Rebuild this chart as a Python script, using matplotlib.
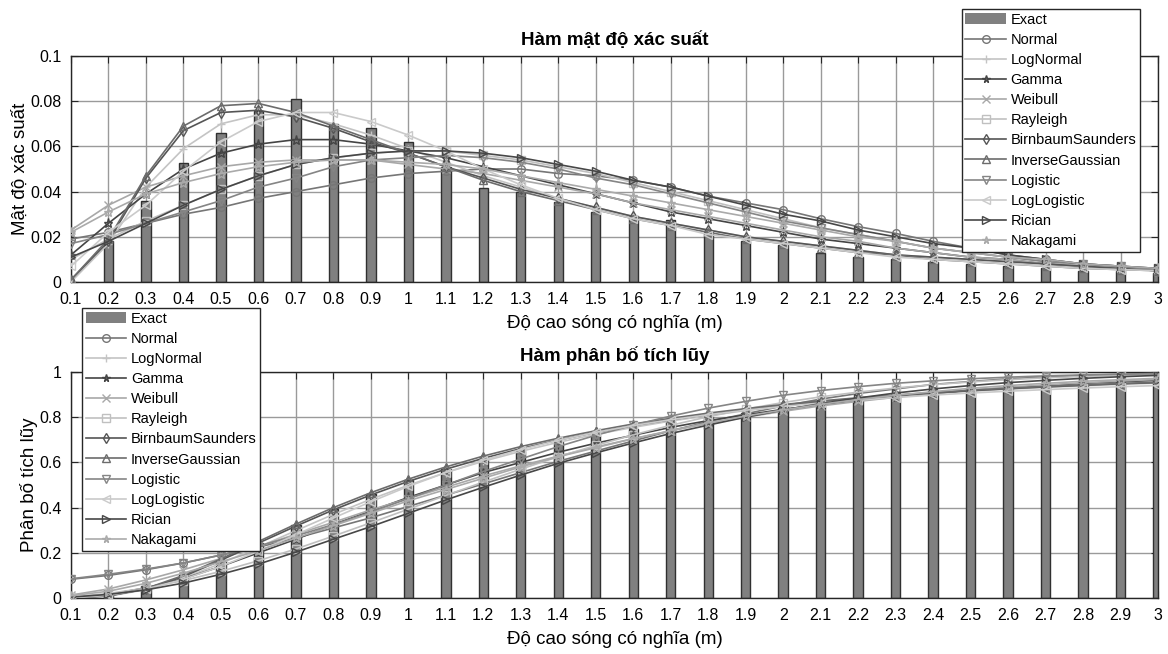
import matplotlib
matplotlib.use("Agg")
import matplotlib.pyplot as plt
from matplotlib.patches import Patch
from matplotlib.lines import Line2D
import numpy as np

# wave height bins (m)
x = [0.1, 0.2, 0.3, 0.4, 0.5, 0.6, 0.7, 0.8, 0.9, 1.0,
     1.1, 1.2, 1.3, 1.4, 1.5, 1.6, 1.7, 1.8, 1.9, 2.0,
     2.1, 2.2, 2.3, 2.4, 2.5, 2.6, 2.7, 2.8, 2.9, 3.0]
x_labels = ['0.1', '0.2', '0.3', '0.4', '0.5', '0.6', '0.7', '0.8', '0.9', '1',
            '1.1', '1.2', '1.3', '1.4', '1.5', '1.6', '1.7', '1.8', '1.9', '2',
            '2.1', '2.2', '2.3', '2.4', '2.5', '2.6', '2.7', '2.8', '2.9', '3']

names = ['Normal', 'LogNormal', 'Gamma', 'Weibull', 'Rayleigh', 'BirnbaumSaunders',
         'InverseGaussian', 'Logistic', 'LogLogistic', 'Rician', 'Nakagami']

# ---- probability density (top)
exact_pdf = [0.000, 0.018, 0.036, 0.0525, 0.066, 0.0755, 0.081, 0.070, 0.068, 0.062,
             0.051, 0.0415, 0.040, 0.0355, 0.031, 0.029, 0.0274, 0.022, 0.018, 0.0164,
             0.0128, 0.011, 0.010, 0.009, 0.008, 0.007, 0.006, 0.005, 0.005, 0.004]

pdf_normal = [0.019, 0.022, 0.026, 0.030, 0.033, 0.037, 0.040, 0.043, 0.046, 0.048,
              0.049, 0.050, 0.050, 0.048, 0.047, 0.045, 0.042, 0.038, 0.035, 0.032,
              0.028, 0.0245, 0.0215, 0.018, 0.015, 0.012, 0.010, 0.008, 0.007, 0.005]
pdf_lognormal = [0.000, 0.017, 0.042, 0.059, 0.070, 0.074, 0.074, 0.070, 0.065, 0.059,
                 0.053, 0.047, 0.042, 0.037, 0.033, 0.029, 0.026, 0.023, 0.020, 0.018,
                 0.016, 0.014, 0.012, 0.011, 0.010, 0.009, 0.008, 0.007, 0.006, 0.0055]
pdf_gamma = [0.012, 0.026, 0.039, 0.050, 0.057, 0.061, 0.063, 0.063, 0.061, 0.058,
             0.055, 0.051, 0.047, 0.043, 0.039, 0.035, 0.031, 0.028, 0.025, 0.022,
             0.019, 0.017, 0.015, 0.013, 0.011, 0.010, 0.008, 0.007, 0.006, 0.005]
pdf_weibull = [0.023, 0.034, 0.042, 0.047, 0.051, 0.053, 0.054, 0.054, 0.054, 0.052,
               0.050, 0.048, 0.045, 0.042, 0.039, 0.035, 0.032, 0.029, 0.026, 0.023,
               0.020, 0.018, 0.015, 0.013, 0.011, 0.010, 0.008, 0.007, 0.006, 0.005]
pdf_rayleigh = [0.010, 0.019, 0.027, 0.034, 0.041, 0.047, 0.052, 0.055, 0.057, 0.058,
                0.058, 0.056, 0.054, 0.051, 0.048, 0.044, 0.040, 0.036, 0.032, 0.028,
                0.024, 0.021, 0.018, 0.015, 0.013, 0.011, 0.009, 0.007, 0.006, 0.005]
pdf_bs = [0.001, 0.018, 0.046, 0.067, 0.075, 0.076, 0.073, 0.068, 0.062, 0.057,
          0.051, 0.046, 0.041, 0.037, 0.033, 0.029, 0.026, 0.023, 0.020, 0.018,
          0.016, 0.014, 0.012, 0.011, 0.010, 0.009, 0.008, 0.007, 0.006, 0.005]
pdf_ig = [0.001, 0.019, 0.047, 0.069, 0.078, 0.079, 0.075, 0.069, 0.063, 0.057,
          0.051, 0.045, 0.040, 0.036, 0.032, 0.028, 0.025, 0.022, 0.019, 0.017,
          0.015, 0.013, 0.012, 0.010, 0.009, 0.008, 0.007, 0.006, 0.0055, 0.005]
pdf_logistic = [0.017, 0.021, 0.026, 0.031, 0.036, 0.042, 0.046, 0.051, 0.054, 0.055,
                0.056, 0.055, 0.053, 0.050, 0.046, 0.043, 0.039, 0.035, 0.031, 0.027,
                0.024, 0.021, 0.018, 0.015, 0.013, 0.011, 0.009, 0.008, 0.007, 0.006]
pdf_loglogistic = [0.007, 0.022, 0.034, 0.049, 0.062, 0.071, 0.075, 0.075, 0.071, 0.065,
                   0.058, 0.050, 0.043, 0.037, 0.032, 0.028, 0.025, 0.021, 0.019, 0.017,
                   0.015, 0.013, 0.011, 0.010, 0.009, 0.008, 0.007, 0.006, 0.0055, 0.005]
pdf_rician = [0.011, 0.018, 0.026, 0.034, 0.041, 0.047, 0.052, 0.055, 0.057, 0.058,
              0.058, 0.057, 0.055, 0.052, 0.049, 0.045, 0.042, 0.038, 0.034, 0.030,
              0.027, 0.023, 0.020, 0.017, 0.015, 0.012, 0.010, 0.008, 0.007, 0.006]
pdf_nakagami = [0.022, 0.031, 0.039, 0.044, 0.048, 0.051, 0.053, 0.054, 0.054, 0.053,
                0.052, 0.050, 0.047, 0.044, 0.041, 0.038, 0.035, 0.032, 0.029, 0.026,
                0.023, 0.020, 0.018, 0.015, 0.013, 0.011, 0.010, 0.008, 0.007, 0.006]

# ---- cumulative distribution (bottom)
exact_cdf = [0.000, 0.020, 0.055, 0.105, 0.170, 0.245, 0.325, 0.395, 0.460, 0.520,
             0.570, 0.610, 0.650, 0.690, 0.720, 0.750, 0.780, 0.800, 0.820, 0.850,
             0.870, 0.885, 0.900, 0.915, 0.930, 0.940, 0.950, 0.957, 0.963, 0.968]

cdf_normal = [0.083, 0.100, 0.125, 0.155, 0.190, 0.225, 0.265, 0.310, 0.355, 0.405,
              0.455, 0.505, 0.555, 0.605, 0.650, 0.695, 0.740, 0.780, 0.815, 0.850,
              0.880, 0.905, 0.925, 0.945, 0.958, 0.970, 0.978, 0.985, 0.990, 0.994]
cdf_lognormal = [0.000, 0.008, 0.037, 0.088, 0.153, 0.225, 0.298, 0.370, 0.437, 0.499,
                 0.555, 0.605, 0.649, 0.689, 0.724, 0.755, 0.783, 0.807, 0.829, 0.848,
                 0.865, 0.880, 0.893, 0.905, 0.915, 0.924, 0.932, 0.939, 0.945, 0.951]
cdf_gamma = [0.002, 0.015, 0.045, 0.085, 0.140, 0.200, 0.260, 0.325, 0.385, 0.445,
             0.500, 0.555, 0.600, 0.645, 0.685, 0.720, 0.755, 0.785, 0.810, 0.835,
             0.855, 0.875, 0.890, 0.905, 0.920, 0.930, 0.940, 0.950, 0.957, 0.963]
cdf_weibull = [0.013, 0.040, 0.080, 0.125, 0.175, 0.228, 0.282, 0.335, 0.390, 0.440,
               0.490, 0.540, 0.585, 0.628, 0.668, 0.705, 0.740, 0.772, 0.800, 0.826,
               0.850, 0.870, 0.888, 0.905, 0.920, 0.932, 0.943, 0.952, 0.960, 0.967]
cdf_rayleigh = [0.005, 0.020, 0.044, 0.077, 0.118, 0.165, 0.217, 0.274, 0.333, 0.393,
                0.454, 0.513, 0.570, 0.625, 0.675, 0.722, 0.764, 0.802, 0.836, 0.865,
                0.890, 0.911, 0.929, 0.944, 0.956, 0.966, 0.974, 0.980, 0.985, 0.989]
cdf_bs = [0.000, 0.009, 0.040, 0.095, 0.167, 0.243, 0.318, 0.390, 0.456, 0.516,
          0.570, 0.618, 0.661, 0.699, 0.733, 0.763, 0.789, 0.812, 0.833, 0.852,
          0.868, 0.883, 0.896, 0.907, 0.917, 0.926, 0.934, 0.941, 0.948, 0.953]
cdf_ig = [0.000, 0.010, 0.042, 0.100, 0.173, 0.250, 0.327, 0.400, 0.466, 0.526,
          0.580, 0.628, 0.670, 0.707, 0.740, 0.770, 0.795, 0.818, 0.838, 0.856,
          0.872, 0.886, 0.898, 0.909, 0.919, 0.928, 0.936, 0.943, 0.949, 0.955]
cdf_logistic = [0.085, 0.105, 0.128, 0.155, 0.190, 0.230, 0.275, 0.325, 0.380, 0.440,
                0.500, 0.560, 0.615, 0.670, 0.720, 0.765, 0.805, 0.840, 0.870, 0.897,
                0.918, 0.935, 0.950, 0.961, 0.970, 0.977, 0.983, 0.987, 0.990, 0.992]
cdf_loglogistic = [0.001, 0.012, 0.040, 0.083, 0.140, 0.207, 0.280, 0.354, 0.426, 0.494,
                   0.555, 0.610, 0.657, 0.698, 0.733, 0.763, 0.789, 0.811, 0.831, 0.848,
                   0.863, 0.876, 0.887, 0.898, 0.907, 0.915, 0.922, 0.929, 0.935, 0.940]
cdf_rician = [0.004, 0.016, 0.036, 0.066, 0.105, 0.150, 0.203, 0.260, 0.316, 0.375,
              0.434, 0.490, 0.544, 0.596, 0.642, 0.686, 0.728, 0.765, 0.800, 0.832,
              0.860, 0.885, 0.907, 0.925, 0.940, 0.953, 0.963, 0.972, 0.979, 0.985]
cdf_nakagami = [0.010, 0.030, 0.065, 0.110, 0.160, 0.210, 0.265, 0.320, 0.375, 0.430,
                0.480, 0.530, 0.580, 0.625, 0.665, 0.705, 0.740, 0.775, 0.805, 0.832,
                0.857, 0.878, 0.897, 0.913, 0.928, 0.940, 0.950, 0.959, 0.966, 0.972]

pdfs = [pdf_normal, pdf_lognormal, pdf_gamma, pdf_weibull, pdf_rayleigh, pdf_bs,
        pdf_ig, pdf_logistic, pdf_loglogistic, pdf_rician, pdf_nakagami]
cdfs = [cdf_normal, cdf_lognormal, cdf_gamma, cdf_weibull, cdf_rayleigh, cdf_bs,
        cdf_ig, cdf_logistic, cdf_loglogistic, cdf_rician, cdf_nakagami]

# grey shades and markers, one per fit
colors = ['#767676', '#c4c4c4', '#444444', '#a8a8a8', '#c0c0c0', '#555555',
          '#6c6c6c', '#858585', '#cacaca', '#474747', '#aaaaaa']
markers = ['o', '+', '*', 'x', 's', 'd', '^', 'v', '<', '>', '*']

plt.rcParams['font.sans-serif'] = ['Liberation Sans', 'DejaVu Sans']
plt.rcParams['font.family'] = 'sans-serif'

fig = plt.figure(figsize=(11.68, 6.54), dpi=100)
ax1 = fig.add_axes([71/1168, 1-282/654, 1087/1168, 226/654])
ax2 = fig.add_axes([71/1168, 1-598/654, 1087/1168, 226/654])

bar_face = '#808080'
bar_edge = '#303030'


def draw(ax, exact, fits, ymax, yticks, ylabels, title, ylab):
    ax.bar(x, exact, width=0.025, color=bar_face, edgecolor=bar_edge, linewidth=1.0, zorder=2)
    for i in range(len(fits)):
        ms = 5.5
        if markers[i] == '*':
            ms = 6.5
        ax.plot(x, fits[i], color=colors[i], marker=markers[i], markersize=ms,
                markerfacecolor='none', markeredgecolor=colors[i], linewidth=1.2, zorder=3)
    ax.set_xlim(0.1, 3.0)
    ax.set_ylim(0, ymax)
    ax.set_xticks(x)
    ax.set_xticklabels(x_labels, fontsize=11.5)
    ax.set_yticks(yticks)
    ax.set_yticklabels(ylabels, fontsize=11.5)
    ax.grid(True, color='#9a9a9a', linewidth=1.0, zorder=0)
    ax.set_axisbelow(True)
    ax.tick_params(direction='in', top=True, right=True, length=5, color='#262626')
    ax.tick_params(axis='x', pad=7)
    ax.tick_params(axis='y', pad=7)
    for s in ax.spines.values():
        s.set_color('#262626')
        s.set_linewidth(1.0)
    ax.set_title(title, fontsize=13.5, fontweight='bold', pad=8)
    ax.set_xlabel('Độ cao sóng có nghĩa (m)', fontsize=13.5, labelpad=6)
    ax.set_ylabel(ylab, fontsize=13.5, labelpad=1)


draw(ax1, exact_pdf, pdfs, 0.1, [0, 0.02, 0.04, 0.06, 0.08, 0.1],
     ['0', '0.02', '0.04', '0.06', '0.08', '0.1'], 'Hàm mật độ xác suất', 'Mật độ xác suất')
draw(ax2, exact_cdf, cdfs, 1.0, [0, 0.2, 0.4, 0.6, 0.8, 1.0],
     ['0', '0.2', '0.4', '0.6', '0.8', '1'], 'Hàm phân bố tích lũy', 'Phân bố tích lũy')

# legend handles
handles = [Patch(facecolor=bar_face, edgecolor='none')]
for i in range(len(names)):
    handles.append(Line2D([], [], color=colors[i], marker=markers[i], markersize=5.5,
                          markerfacecolor='none', markeredgecolor=colors[i], linewidth=1.2))
labels = ['Exact'] + names

for ax, anchor, loc in [(ax1, (1140/1168, 1-9/654), 'upper right'),
                        (ax2, (82/1168, 1-308/654), 'upper left')]:
    leg = ax.legend(handles, labels, loc=loc, bbox_to_anchor=anchor,
                    bbox_transform=fig.transFigure, fontsize=10.5, frameon=True,
                    fancybox=False, edgecolor='#262626', framealpha=1,
                    handlelength=2.8, handletextpad=0.3, labelspacing=0.42,
                    borderpad=0.25, borderaxespad=0)
    leg.get_frame().set_linewidth(1.0)
    leg.set_zorder(10)

plt.savefig('out.png', dpi=100)
